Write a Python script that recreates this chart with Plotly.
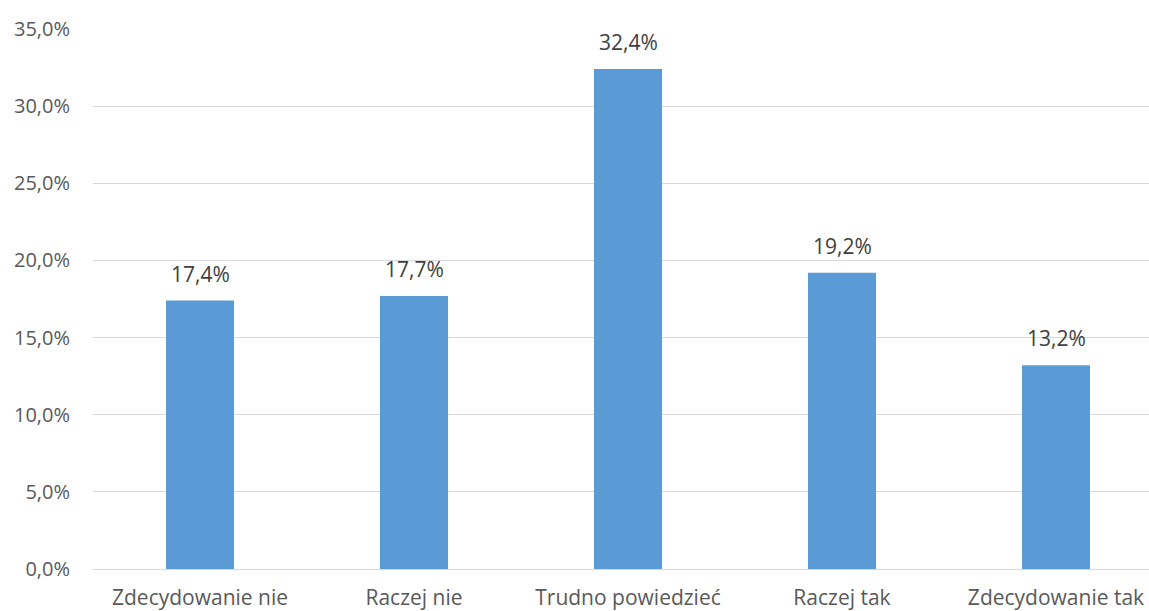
import plotly.graph_objects as go

categories = ["Zdecydowanie nie", "Raczej nie", "Trudno powiedzieć", "Raczej tak", "Zdecydowanie tak"]
values = [17.4, 17.7, 32.4, 19.2, 13.2]
y_ticks = [0, 5, 10, 15, 20, 25, 30, 35]
y_tick_labels = ["0,0%", "5,0%", "10,0%", "15,0%", "20,0%", "25,0%", "30,0%", "35,0%"]

FONT = "Open Sans, Liberation Sans, sans-serif"
TEXT_COLOR = "#595959"

fig = go.Figure()

fig.add_trace(go.Bar(
    x=list(range(len(categories))),
    y=values,
    marker_color="#5B9BD5",
    marker_line_width=0,
    width=0.318,
    hoverinfo="skip",
))

# etykiety danych nad słupkami
for i, v in enumerate(values):
    fig.add_annotation(
        x=i, y=v,
        text=f"{v:.1f}%".replace(".", ","),
        showarrow=False,
        yanchor="bottom",
        yshift=11,
        font=dict(size=21, color="#404040", family=FONT),
    )

fig.update_layout(
    width=1149,
    height=611,
    margin=dict(l=93, r=0, t=29, b=42),
    plot_bgcolor="white",
    paper_bgcolor="white",
    showlegend=False,
    font=dict(family=FONT, size=20, color=TEXT_COLOR),
    xaxis=dict(
        tickmode="array",
        tickvals=list(range(len(categories))),
        ticktext=categories,
        tickfont=dict(size=21),
        range=[-0.5, -0.5 + 1056 / 214],
        showgrid=False,
        showline=False,
        zeroline=False,
        ticks="",
        ticklabelstandoff=14,
        automargin=False,
    ),
    yaxis=dict(
        tickmode="array",
        tickvals=y_ticks,
        ticktext=y_tick_labels,
        range=[0, 35],
        showgrid=True,
        gridcolor="#D9D9D9",
        gridwidth=1,
        zeroline=True,
        zerolinecolor="#D9D9D9",
        zerolinewidth=1,
        showline=False,
        ticks="",
        ticklabelstandoff=22,
        automargin=False,
    ),
)

# bez domyślnego marginesu strony (8 px) i bez pasków przewijania
fig.write_html(
    "out.html",
    config={"displayModeBar": False},
    post_script="document.body.style.margin='0';document.body.style.overflow='hidden';",
)
